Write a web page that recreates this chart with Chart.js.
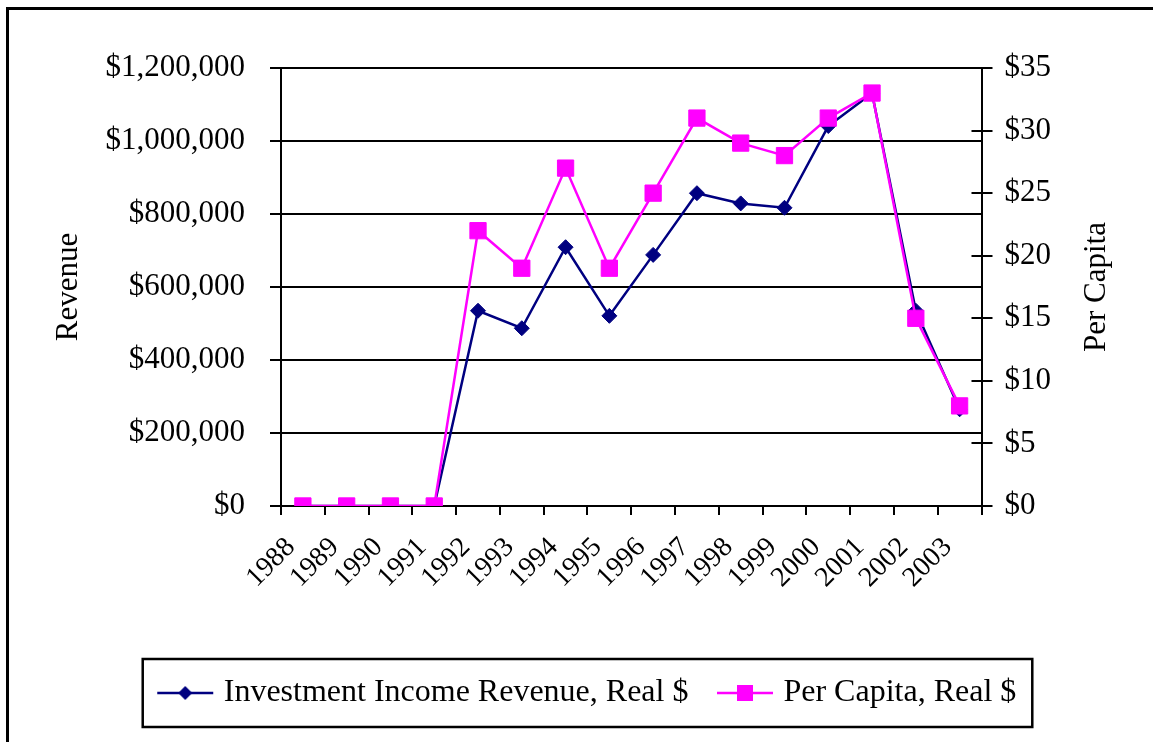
<!DOCTYPE html>
<html>
<head>
<meta charset="utf-8">
<script src="https://cdn.jsdelivr.net/npm/chart.js@4"></script>
<style>
html,body{margin:0;padding:0;background:#fff;overflow:hidden}
#wrap{position:relative;width:1153px;height:742px}
#frame{position:absolute;left:6px;top:7px;width:1200px;height:800px;border:3px solid #000;box-sizing:border-box}
canvas{position:absolute;left:0;top:0}
</style>
</head>
<body>
<div id="wrap"><div id="frame"></div><canvas id="c" width="1153" height="742"></canvas></div>
<script>
const years = ['1988','1989','1990','1991','1992','1993','1994','1995','1996','1997','1998','1999','2000','2001','2002','2003'];
const investmentRevenue = [0,0,0,0,535000,487000,709000,521000,688000,857000,829000,817000,1041000,1131000,535000,265000];
const perCapita = [0,0,0,0,22,19,27,19,25,31,29,28,31,33,15,8];
const revenueTicks = [0,200000,400000,600000,800000,1000000,1200000];
const perCapitaTicks = [0,5,10,15,20,25,30,35];

const NAVY = '#000080';
const MAGENTA = '#ff00ff';
const FONT = "'Liberation Serif','Times New Roman',serif";

Chart.defaults.font.family = FONT;
Chart.defaults.font.size = 31;
Chart.defaults.color = '#000';

// little line + marker pictures for the legend
function legendIcon(color, shape){
  const c = document.createElement('canvas');
  c.width = 60; c.height = 20;
  const g = c.getContext('2d');
  g.strokeStyle = color; g.lineWidth = 2.5;
  g.beginPath(); g.moveTo(2,10); g.lineTo(58,10); g.stroke();
  g.fillStyle = color;
  g.beginPath();
  if(shape === 'diamond'){ g.moveTo(30,3); g.lineTo(37,10); g.lineTo(30,17); g.lineTo(23,10); g.closePath(); }
  else { g.rect(22,2,16,16); }
  g.fill();
  return c;
}
const icons = [legendIcon(NAVY,'diamond'), legendIcon(MAGENTA,'square')];

// right axis: ticks that cross into the plot + title reading bottom-to-top
const rightAxisExtras = {
  id:'rightAxisExtras',
  afterDraw(chart){
    const s = chart.scales.y1, ctx = chart.ctx, ca = chart.chartArea;
    ctx.save();
    ctx.strokeStyle = '#000'; ctx.lineWidth = 2;
    s.ticks.forEach(t=>{
      const y = Math.round(s.getPixelForValue(t.value));
      ctx.beginPath(); ctx.moveTo(s.left-10, y); ctx.lineTo(s.left, y); ctx.stroke();
    });
    ctx.font = '31px ' + FONT; ctx.fillStyle = '#000';
    ctx.textAlign = 'center'; ctx.textBaseline = 'middle';
    ctx.translate(s.right - 40, (ca.top + ca.bottom)/2);
    ctx.rotate(-Math.PI/2);
    ctx.fillText('Per Capita', 0, 0);
    ctx.restore();
  }
};

// box round the legend
const legendFrame = {
  id:'legendFrame',
  afterDraw(chart){
    const boxes = chart.legend.legendHitBoxes;
    if(!boxes || !boxes.length) return;
    const l = Math.min(...boxes.map(b=>b.left)) - 20;
    const r = Math.max(...boxes.map(b=>b.left + b.width)) + 16;
    const t = boxes[0].top - 18, b = boxes[0].top + boxes[0].height + 18;
    const ctx = chart.ctx;
    ctx.save(); ctx.strokeStyle = '#000'; ctx.lineWidth = 2.5;
    ctx.strokeRect(l, t, r-l, b-t);
    ctx.restore();
  }
};

new Chart(document.getElementById('c'), {
  type:'line',
  data:{
    labels: years,
    datasets:[
      {
        label:'Investment Income Revenue, Real $',
        data: investmentRevenue,
        yAxisID:'y',
        borderColor: NAVY, backgroundColor: NAVY,
        borderWidth: 2.5,
        pointStyle:'rectRot', pointRadius: 7.5, pointBorderWidth: 1,
        pointBackgroundColor: NAVY, pointBorderColor: NAVY,
        tension: 0, order: 1
      },
      {
        label:'Per Capita, Real $',
        data: perCapita,
        yAxisID:'y1',
        borderColor: MAGENTA, backgroundColor: MAGENTA,
        borderWidth: 2.5,
        pointStyle:'rect', pointRadius: 11.5, pointBorderWidth: 1,
        pointBackgroundColor: MAGENTA, pointBorderColor: MAGENTA,
        tension: 0, order: 0
      }
    ]
  },
  options:{
    responsive:false,
    animation:false,
    layout:{ padding:{ left:42, right:16, top:68, bottom:23 } },
    plugins:{
      tooltip:{ enabled:false },
      legend:{
        position:'bottom',
        labels:{
          usePointStyle:true,
          pointStyleWidth:45,
          padding:34,
          color:'#000',
          font:{ size:32 },
          sort:(a,b)=>a.datasetIndex - b.datasetIndex,
          generateLabels(chart){
            const items = Chart.defaults.plugins.legend.labels.generateLabels(chart);
            items.forEach(it=>{ it.pointStyle = icons[it.datasetIndex]; });
            return items;
          }
        }
      }
    },
    scales:{
      x:{
        offset:true,
        grid:{ offset:true, drawOnChartArea:false, tickLength:9, color:'#000', lineWidth:2 },
        border:{ color:'#000', width:2 },
        ticks:{ minRotation:45, maxRotation:45, autoSkip:false, padding:16, labelOffset:-12, font:{ size:28 } },
        afterFit(s){ s.height = 137; }
      },
      y:{
        position:'left',
        min:0, max:1200000,
        afterBuildTicks(s){ s.ticks = revenueTicks.map(v=>({value:v})); },
        grid:{ color:'#000', lineWidth:2, tickLength:11 },
        border:{ color:'#000', width:2 },
        ticks:{ padding:25, callback:v=>'$' + Number(v).toLocaleString('en-US') },
        title:{ display:true, text:'Revenue', padding:{ top:8, bottom:0 } },
        afterFit(s){ s.width = 239; }
      },
      y1:{
        position:'right',
        min:0, max:35,
        afterBuildTicks(s){ s.ticks = perCapitaTicks.map(v=>({value:v})); },
        grid:{ drawOnChartArea:false, color:'#000', lineWidth:2, tickLength:11 },
        border:{ color:'#000', width:2 },
        ticks:{ padding:12, callback:v=>'$' + v },
        afterFit(s){ s.width = 155.5; }
      }
    }
  },
  plugins:[rightAxisExtras, legendFrame]
});
</script>
</body>
</html>
